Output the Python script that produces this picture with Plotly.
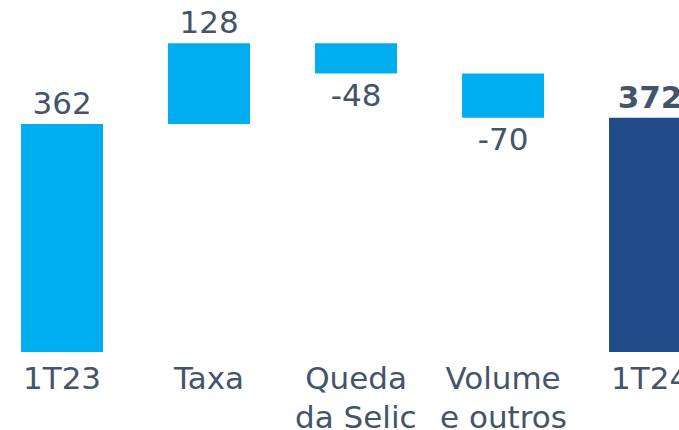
import plotly.graph_objects as go

categories = ["1T23", "Taxa", "Queda da Selic", "Volume e outros", "1T24"]
line1 = ["1T23", "Taxa", "Queda", "Volume", "1T24"]
line2 = ["", "", "da Selic", "e outros", ""]
values = [362, 128, -48, -70, 372]
measures = ["relative", "relative", "relative", "relative", "total"]
labels = ["362", "128", "-48", "-70", "<b>372</b>"]

LIGHT = "#00AEEF"
DARK = "#214B87"
TXT = "#44546A"
FONT = "DejaVu Sans"

fig = go.Figure()
fig.add_trace(go.Waterfall(
    x=categories,
    y=[v if m != "total" else 0 for v, m in zip(values, measures)],
    measure=measures,
    text=labels,
    textposition="outside",
    textfont=dict(family=FONT, size=31, color=TXT),
    increasing=dict(marker=dict(color=LIGHT)),
    decreasing=dict(marker=dict(color=LIGHT)),
    totals=dict(marker=dict(color=DARK)),
    connector=dict(visible=False),
    width=0.558,
    cliponaxis=True,
    hoverinfo="skip",
))

for c, t in zip(categories, line2):
    if t:
        fig.add_annotation(x=c, xref="x", y=0, yref="paper", yanchor="top",
                           yshift=-45, text=t, showarrow=False,
                           font=dict(family=FONT, size=31, color=TXT))

fig.update_layout(
    width=679, height=430,
    margin=dict(l=0, r=0, t=0, b=78, autoexpand=False),
    plot_bgcolor="white", paper_bgcolor="white",
    showlegend=False,
    xaxis=dict(type="category", range=[-0.422, 4.197], tickmode="array",
               tickvals=categories, ticktext=line1, showgrid=False,
               zeroline=False, showline=False, ticks="", automargin=False,
               ticklabelstandoff=5,
               tickfont=dict(family=FONT, size=31, color=TXT)),
    yaxis=dict(range=[0, 558.7], visible=False, showgrid=False, zeroline=False,
               automargin=False),
)

fig.write_html("out.html", config={"displayModeBar": False},
               post_script="document.body.style.margin='0';document.body.style.overflow='hidden';")
